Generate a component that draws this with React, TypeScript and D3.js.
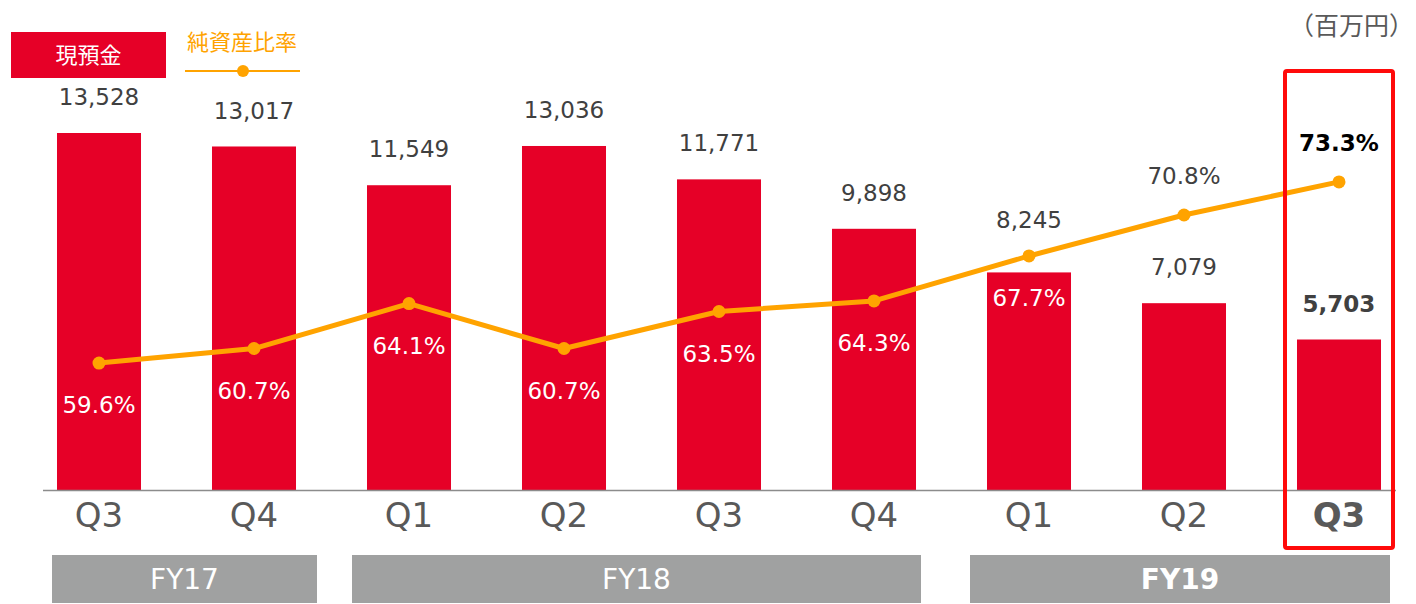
import React from "react";
import * as d3 from "d3";

const quarters = ["Q3", "Q4", "Q1", "Q2", "Q3", "Q4", "Q1", "Q2", "Q3"];
const cash = [13528, 13017, 11549, 13036, 11771, 9898, 8245, 7079, 5703];
const equityRatio = [59.6, 60.7, 64.1, 60.7, 63.5, 64.3, 67.7, 70.8, 73.3];
const ratioLabelAbove = [false, false, false, false, false, false, false, true, true];
const fiscalYears = ["FY17", "FY18", "FY19"];
const fyStart = [0, 2, 6];
const fyEnd = [1, 5, 8];
const barLegend = "現預金";
const lineLegend = "純資産比率";
const unitLabel = "（百万円）";

const W = 1416;
const H = 604;
const FONT = "'DejaVu Sans', 'Noto Sans CJK JP', sans-serif";
const CJK = "'Noto Sans CJK JP', sans-serif";
const RED = "#E60027";
const ORANGE = "#FFA300";
const GRAY_TXT = "#404040";

export default function App() {
  const idx = quarters.map((_, i) => i);
  const x = d3
    .scaleBand<number>()
    .domain(idx)
    .range([21.5, 1416.5])
    .paddingInner(0.458)
    .paddingOuter(0.229);
  const y = d3.scaleLinear().domain([0, d3.max(cash) as number]).range([490, 133]);
  const yr = d3.scaleLinear().domain([50, 77]).range([490, 133]);
  const cx = (i: number) => (x(i) as number) + x.bandwidth() / 2;
  const last = quarters.length - 1;

  const line = d3
    .line<number>()
    .x((_, i) => cx(i))
    .y((d) => yr(d));

  // layout padding of group boxes around their first/last bar centres
  const boxPad = [
    [47, 63],
    [57, 47],
    [59, 51],
  ];
  const boxEdges = fiscalYears.map((_, k) => [cx(fyStart[k]) - boxPad[k][0], cx(fyEnd[k]) + boxPad[k][1]]);

  return (
    <svg
      width={W}
      height={H}
      style={{ position: "absolute", left: 0, top: 0, background: "#fff" }}
      fontFamily={FONT}
    >
      {/* legend */}
      <rect x={11} y={32} width={155} height={46} fill={RED} />
      <text x={88.5} y={55} dy="0.35em" textAnchor="middle" fill="#fff" fontSize={22} fontFamily={CJK}>
        {barLegend}
      </text>
      <text x={242} y={42} dy="0.35em" textAnchor="middle" fill={ORANGE} fontSize={22} fontFamily={CJK}>
        {lineLegend}
      </text>
      <line x1={185} x2={300} y1={71} y2={71} stroke={ORANGE} strokeWidth={2} />
      <circle cx={243} cy={71} r={6} fill={ORANGE} />

      <text x={1414} y={26} dy="0.35em" textAnchor="end" fill="#595959" fontSize={25} fontFamily={CJK}>
        {unitLabel}
      </text>

      {/* bars */}
      {cash.map((v, i) => (
        <rect key={"b" + i} x={x(i)} y={y(v)} width={x.bandwidth()} height={y(0) - y(v)} fill={RED} />
      ))}

      {/* axis */}
      <line x1={43} x2={1396} y1={490.5} y2={490.5} stroke="#8c8c8c" strokeWidth={1.5} />

      {/* line */}
      <path d={line(equityRatio) as string} fill="none" stroke={ORANGE} strokeWidth={5} strokeLinejoin="round" />
      {equityRatio.map((v, i) => (
        <circle key={"c" + i} cx={cx(i)} cy={yr(v)} r={6.5} fill={ORANGE} />
      ))}

      {/* value labels */}
      {cash.map((v, i) => {
        const barTop = y(v);
        const pt = yr(equityRatio[i]);
        const anchor = pt < barTop && !ratioLabelAbove[i] ? pt : barTop;
        const isLast = i === last;
        return (
          <text
            key={"v" + i}
            x={cx(i)}
            y={anchor - 36}
            dy="0.35em"
            textAnchor="middle"
            fill={GRAY_TXT}
            fontSize={23}
            fontWeight={isLast ? "bold" : "normal"}
          >
            {d3.format(",")(v)}
          </text>
        );
      })}

      {/* ratio labels */}
      {equityRatio.map((v, i) => {
        const pt = yr(v);
        const above = ratioLabelAbove[i];
        const isLast = i === last;
        return (
          <text
            key={"r" + i}
            x={cx(i)}
            y={above ? pt - 39 : pt + 42}
            dy="0.35em"
            textAnchor="middle"
            fill={above ? (isLast ? "#000" : GRAY_TXT) : "#fff"}
            fontSize={23}
            fontWeight={isLast ? "bold" : "normal"}
          >
            {v.toFixed(1) + "%"}
          </text>
        );
      })}

      {/* quarter labels */}
      {quarters.map((q, i) => (
        <text
          key={"q" + i}
          x={cx(i)}
          y={515}
          dy="0.36em"
          textAnchor="middle"
          fill="#595959"
          fontSize={34}
          fontWeight={i === last ? "bold" : "normal"}
        >
          {q}
        </text>
      ))}

      {/* fiscal year boxes */}
      {fiscalYears.map((fy, k) => {
        const [x0, x1] = boxEdges[k];
        return (
          <g key={"fy" + k}>
            <rect x={x0} y={555} width={x1 - x0} height={48} fill="#A0A1A1" />
            <text
              x={(x0 + x1) / 2}
              y={579}
              dy="0.36em"
              textAnchor="middle"
              fill="#fff"
              fontSize={28}
              fontWeight={k === fiscalYears.length - 1 ? "bold" : "normal"}
            >
              {fy}
            </text>
          </g>
        );
      })}

      {/* highlight */}
      <rect
        x={cx(last) - 54}
        y={71}
        width={108}
        height={477}
        fill="none"
        stroke="#FF0A0A"
        strokeWidth={4}
        rx={2}
      />
    </svg>
  );
}
